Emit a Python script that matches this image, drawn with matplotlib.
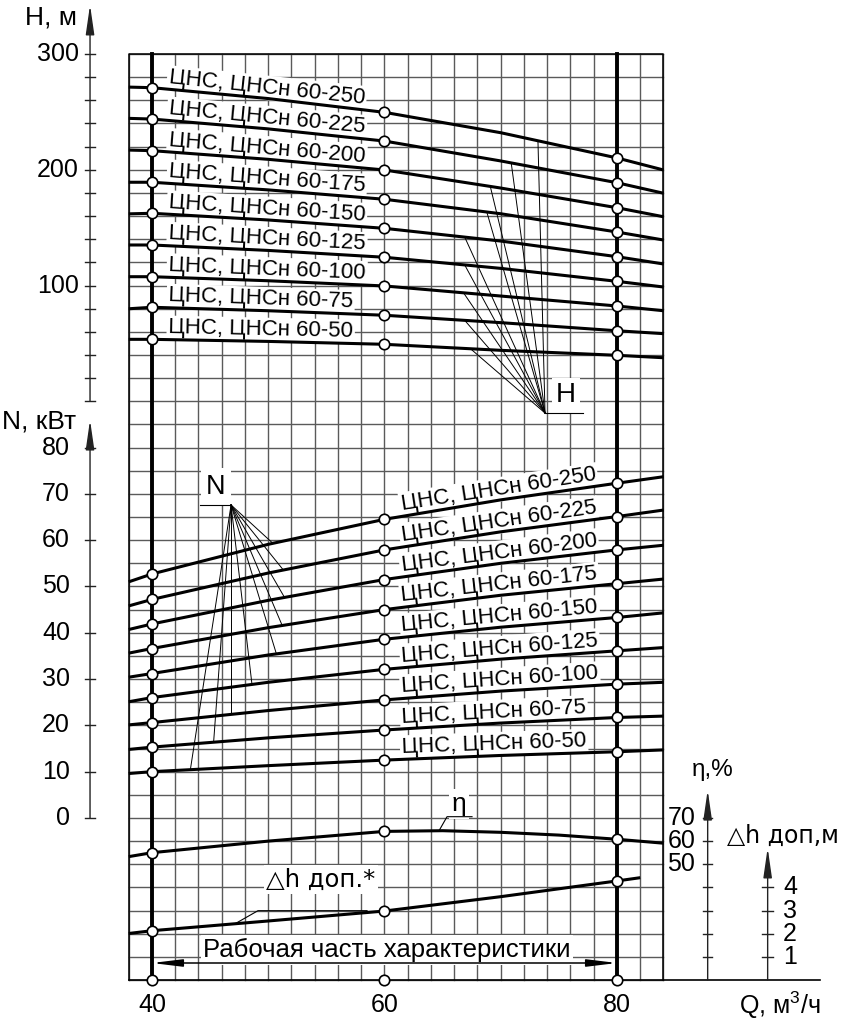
import numpy as np
import matplotlib
matplotlib.use('Agg')
from matplotlib import pyplot as plt

plt.rcParams['font.family'] = ['Liberation Sans', 'DejaVu Sans']
plt.rcParams['mathtext.fontset'] = 'custom'
plt.rcParams['mathtext.rm'] = 'Liberation Sans'

# flow Q, m3/h
q = [38, 40, 50, 60, 70, 80, 84]
models = ['60-250', '60-225', '60-200', '60-175', '60-150',
          '60-125', '60-100', '60-75', '60-50']

# head H, m
head = [
    [271.4, 270.9, 261.5, 249.6, 232.0, 210.2, 199.8],
    [244.4, 243.8, 235.3, 224.8, 207.6, 188.8, 179.7],
    [217.0, 216.5, 209.0, 199.8, 184.2, 167.2, 159.4],
    [189.2, 189.2, 182.6, 174.5, 162.0, 146.2, 139.3],
    [161.9, 162.4, 156.6, 149.4, 138.4, 124.9, 118.6],
    [135.0, 135.0, 130.3, 124.4, 114.8, 103.6, 98.7],
    [107.6, 107.6, 104.1, 99.6, 90.9, 82.3, 78.2],
    [79.9, 81.2, 78.2, 74.3, 67.9, 60.9, 58.4],
    [53.5, 53.5, 51.7, 49.2, 44.0, 39.7, 37.6],
]

# power N, kW
power = [
    [51.0, 52.7, 59.1, 64.5, 68.7, 72.3, 73.7],
    [45.8, 47.2, 52.9, 57.9, 61.8, 65.1, 66.5],
    [40.7, 41.9, 47.0, 51.5, 55.0, 57.9, 58.9],
    [35.6, 36.6, 41.1, 45.0, 48.1, 50.6, 51.6],
    [30.4, 31.2, 35.2, 38.6, 41.2, 43.3, 44.3],
    [25.1, 26.0, 29.3, 32.1, 34.3, 36.1, 36.8],
    [20.1, 20.6, 23.2, 25.5, 27.4, 28.9, 29.3],
    [14.8, 15.3, 17.3, 19.0, 20.5, 21.7, 22.0],
    [9.6, 10.0, 11.3, 12.5, 13.5, 14.3, 14.7],
]

# efficiency, %
q_eta = [38, 40, 50, 60, 65, 70, 75, 80, 84]
eta = [53.3, 55.0, 60.0, 64.2, 64.5, 63.8, 62.6, 60.8, 59.1]

# NPSH (delta h allowed), m
q_dh = [38, 40, 50, 60, 70, 80, 82]
dh = [2.01, 2.13, 2.55, 2.98, 3.6, 4.28, 4.42]

q_marks = [40, 60, 80]
q_labels = [40, 60, 80]
h_ticks = list(range(0, 301, 20))
h_labels = [100, 200, 300]
n_ticks = list(range(0, 81, 10))
eta_ticks = list(range(10, 71, 10))
eta_labels = [50, 60, 70]
dh_ticks = [1, 2, 3, 4]

# where the pointer lines meet each curve (Q)
h_lead_q = [73.2, 70.9, 69.1, 68.8, 66.9, 66.9, 66.8, 66.9, 67.4]
n_lead_q = [50.4, 51.3, 51.4, 51.2, 50.7, 48.6, 46.8, 45.3, 43.3]


def n_y(v):
    return -360 + 4 * np.asarray(v, float)


def eta_y(v):
    return -500 + 2 * np.asarray(v, float)


def dh_y(v):
    return -500 + 20 * np.asarray(v, float)


fig = plt.figure(figsize=(8.45, 10.24), dpi=100)
ax = fig.add_axes([0, 0, 1, 1])
ax.set_xlim(26.925, 99.613)
ax.set_ylim(-538.0, 346.65)
ax.axis('off')

GRID = '#5a5a5a'
AXC = '#222222'
for xq in np.arange(38, 85, 2):
    ax.plot([xq, xq], [-500, 300], color=GRID, lw=1.0, zorder=1)
for yy in np.arange(-500, 301, 20):
    ax.plot([38, 84], [yy, yy], color=GRID, lw=1.0, zorder=1)
ax.plot([38, 38, 84, 84], [-500, 300, 300, -500], color='k', lw=1.1, zorder=1.2)
ax.plot([38, 97.46], [-500, -500], color='k', lw=1.2, zorder=3)
for xq in (40, 80):
    ax.plot([xq, xq], [-500, 300], color='k', lw=2.8, zorder=3)


def curve(xs, ys):
    ax.plot(xs, ys, color='k', lw=2.2, zorder=4, solid_capstyle='butt')
    idx = [xs.index(v) for v in q_marks if v in xs]
    ax.plot([xs[i] for i in idx], [ys[i] for i in idx], 'o', ms=7.5,
            mfc='white', mec='k', mew=1.2, zorder=5)


def angle(x0, y0, x1, y1):
    p0 = ax.transData.transform((x0, y0))
    p1 = ax.transData.transform((x1, y1))
    return np.degrees(np.arctan2(p1[1] - p0[1], p1[0] - p0[0]))


def curve_label(text, xs, ys, q0, q1):
    y0, y1 = np.interp([q0, q1], xs, ys)
    ax.annotate(text, xy=(q0, y0), xytext=(0, 4.5), textcoords='offset points',
                rotation=angle(q0, y0, q1, y1), rotation_mode='anchor',
                ha='left', va='baseline', fontsize=16, zorder=2,
                bbox=dict(boxstyle='square,pad=0.08', fc='white', ec='none'))


for i, m in enumerate(models):
    hy = list(np.asarray(head[i], float))
    curve(q, hy)
    curve_label('ЦНС, ЦНСн ' + m, q, hy, 41.4, 58.5)
    ny = list(n_y(power[i]))
    curve(q, ny)
    curve_label('ЦНС, ЦНСн ' + m, q, ny, 61.5, 78.5)

curve(q_eta, list(eta_y(eta)))
curve(q_dh, list(dh_y(dh)))
ax.plot(q_marks, [-500] * len(q_marks), 'o', ms=7.5, mfc='white', mec='k',
        mew=1.2, zorder=5)

# pointer fans
apex_h = (73.81, -10.15)
for i, ql in enumerate(h_lead_q):
    ax.plot([apex_h[0], ql], [apex_h[1], np.interp(ql, q, head[i])],
            color='k', lw=0.7, zorder=3.5)
ax.plot([73.81, 77.1], [-10.15, -10.15], color='k', lw=0.8, zorder=3.5)
ax.text(75.6, 5.0, 'H', fontsize=20, ha='center', va='center', zorder=2,
        bbox=dict(boxstyle='square,pad=0.15', fc='white', ec='none'))

apex_n = (46.8, -89.6)
for i, ql in enumerate(n_lead_q):
    ax.plot([apex_n[0], ql], [apex_n[1], np.interp(ql, q, n_y(power[i]))],
            color='k', lw=0.7, zorder=3.5)
ax.plot([44.13, 46.8], [-89.6, -89.6], color='k', lw=0.8, zorder=3.5)
ax.text(45.5, -74.0, 'N', fontsize=19.5, ha='center', va='center', zorder=2,
        bbox=dict(boxstyle='square,pad=0.2', fc='white', ec='none'))

# eta and dh pointers
ax.plot([64.69, 65.38, 67.53],
        [float(np.interp(64.69, q_eta, eta_y(eta))), -358.9, -358.9],
        color='k', lw=0.8, zorder=3.5)
ax.text(66.4, -348.0, 'η', fontsize=19, ha='center', va='center', zorder=2,
        bbox=dict(boxstyle='square,pad=0.1', fc='white', ec='none'))
ax.plot([47.14, 49.12, 58.5],
        [float(np.interp(47.14, q_dh, dh_y(dh))), -440.1, -440.1],
        color='k', lw=0.8, zorder=3.5)
ax.text(54.5, -413.5, '△h доп.*', fontsize=17.5, ha='center', va='center',
        zorder=2, family=['DejaVu Sans', 'Liberation Sans'],
        bbox=dict(boxstyle='square,pad=0.1', fc='white', ec='none'))

# working range
ax.text(60.2, -474.0, 'Рабочая часть характеристики', fontsize=18.5,
        ha='center', va='center', zorder=2,
        bbox=dict(boxstyle='square,pad=0.1', fc='white', ec='none'))
ax.annotate('', xy=(40, -485.3), xytext=(80, -485.3),
            arrowprops=dict(arrowstyle='<|-|>,head_length=18,head_width=2.2',
                            mutation_scale=1, lw=1.1, color='k',
                            shrinkA=0, shrinkB=0), zorder=4)


def axis_arrow(x, y0, y1):
    ax.annotate('', xy=(x, y1), xytext=(x, y0),
                arrowprops=dict(arrowstyle='-|>,head_length=18,head_width=2.6',
                                mutation_scale=1, lw=1.0, color=AXC,
                                shrinkA=0, shrinkB=0))


def ticks(x, ys, half):
    for yv in ys:
        ax.plot([x - half, x + half], [yv, yv], color=AXC, lw=1.0)


# H and N axes
AX_L = 34.67
axis_arrow(AX_L, 0, 342.4)
ticks(AX_L, h_ticks, 0.45)
for t in h_labels:
    ax.annotate(str(t), xy=(AX_L, t), xytext=(-8, 0), textcoords='offset points',
                ha='right', va='center', fontsize=18)
ax.text(31.3, 331.5, 'H, м', fontsize=19, ha='center', va='center')

axis_arrow(AX_L, n_y(0), -16.2)
ticks(AX_L, n_y(n_ticks), 0.45)
for t in n_ticks:
    ax.annotate(str(t), xy=(AX_L, n_y(t)), xytext=(-14.5, 0),
                textcoords='offset points', ha='right', va='center', fontsize=18)
ax.text(30.3, -17.1, 'N, кВт', fontsize=19, ha='center', va='center')

# eta axis
AX_E = 87.80
axis_arrow(AX_E, -500, -335.9)
ticks(AX_E, eta_y(eta_ticks), 0.39)
for t in eta_labels:
    ax.annotate(str(t), xy=(AX_E, eta_y(t)), xytext=(-9, 0),
                textcoords='offset points', ha='right', va='center', fontsize=18)
ax.text(88.2, -318.6, 'η,%', fontsize=17.5, ha='center', va='center')

# dh axis
AX_D = 92.96
axis_arrow(AX_D, -500, -385.9)
ticks(AX_D, dh_y(dh_ticks), 0.5)
for t in dh_ticks:
    ax.annotate(str(t), xy=(AX_D, dh_y(t)), xytext=(11, 0),
                textcoords='offset points', ha='left', va='center', fontsize=18)
ax.text(94.3, -375.6, '△h доп,м', fontsize=17, ha='center', va='center',
        family=['DejaVu Sans', 'Liberation Sans'])

# Q axis
for t in q_labels:
    ax.text(t, -521.6, str(t), fontsize=18, ha='center', va='center')
ax.text(94.0, -521.6, 'Q, м$^3$/ч', fontsize=18, ha='center', va='center')

fig.savefig('out.png', dpi=100)
plt.close('all')
